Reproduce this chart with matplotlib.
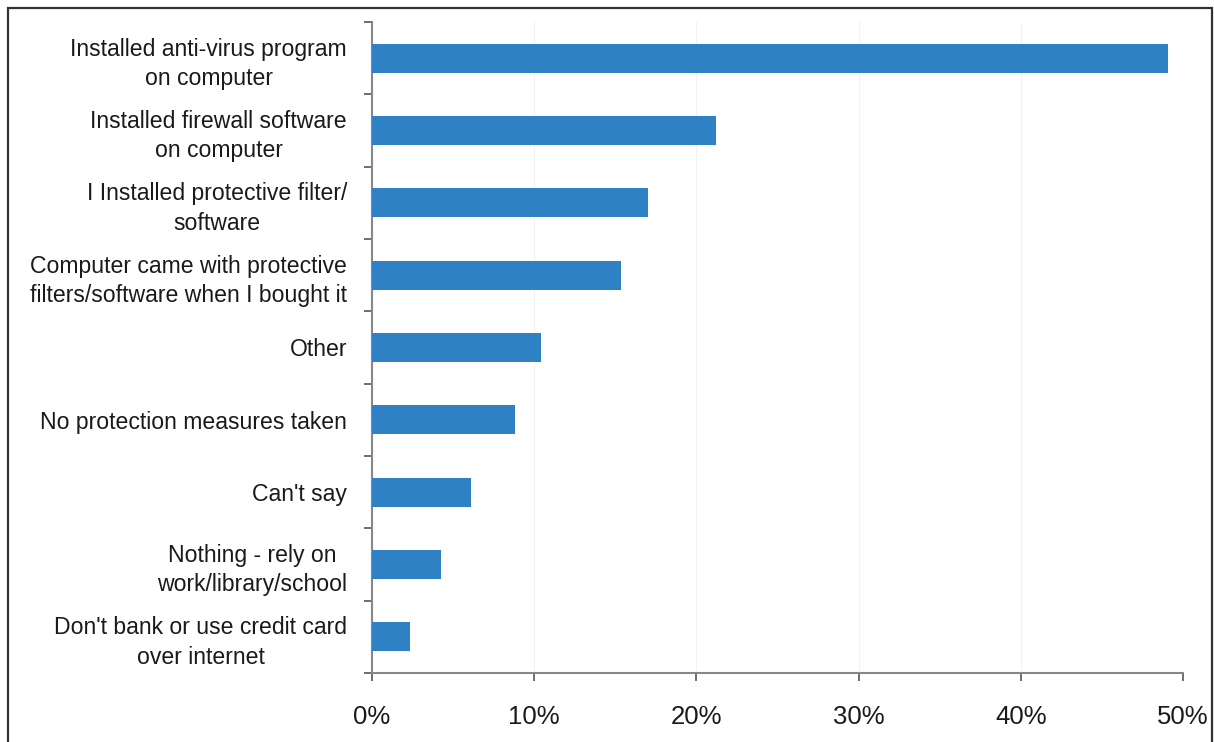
import numpy as np
import matplotlib.pyplot as plt
from matplotlib.patches import Rectangle
from matplotlib.ticker import FixedLocator, PercentFormatter

# categories top to bottom and their shares (%)
categories = [
    "Installed anti-virus program\non computer",
    "Installed firewall software\non computer",
    "I Installed protective filter/\nsoftware",
    "Computer came with protective\nfilters/software when I bought it",
    "Other",
    "No protection measures taken",
    "Can't say",
    "Nothing - rely on\nwork/library/school",
    "Don't bank or use credit card\nover internet",
]
values = [49.1, 21.2, 17.0, 15.35, 10.4, 8.8, 6.1, 4.25, 2.35]
x_ticks = [0, 10, 20, 30, 40, 50]

plt.rcParams['font.family'] = ['Liberation Sans', 'DejaVu Sans']

fig = plt.figure(figsize=(12.14, 7.42), dpi=100)
ax = fig.add_axes([0.3064, 0.093, 0.668, 0.8774])

# outer frame around the chart
fig.patches.append(Rectangle((8 / 1214, -0.05), 1204 / 1214, 1.05 - 8 / 742,
                             transform=fig.transFigure, fill=False,
                             edgecolor='#333333', linewidth=1.6))

n = len(categories)
y = np.arange(n)[::-1]
ax.barh(y, values, height=0.4, color='#2e81c4', zorder=3)

ax.set_xlim(0, 50)
ax.set_ylim(-0.5, n - 0.5)
ax.set_xticks(x_ticks)
ax.xaxis.set_major_formatter(PercentFormatter(decimals=0))
ax.grid(axis='x', color='#f2f2f2', linewidth=0.8, zorder=0)

ax.set_yticks(y)
ax.set_yticklabels(categories, multialignment='center', linespacing=1.35)
ax.yaxis.set_minor_locator(FixedLocator(np.arange(n + 1) - 0.5))
ax.tick_params(axis='y', which='major', length=0, pad=18, labelsize=16.6,
               labelcolor='#1a1a1a')
ax.tick_params(axis='y', which='minor', length=6, width=1.2, color='#555555')
ax.tick_params(axis='x', length=6, width=1.2, color='#555555', pad=17,
               labelsize=18.5, labelcolor='#1a1a1a')

for s in ['top', 'right']:
    ax.spines[s].set_visible(False)
for s in ['left', 'bottom']:
    ax.spines[s].set_color('#888888')
    ax.spines[s].set_linewidth(1.5)

fig.savefig('out.png', dpi=100)
